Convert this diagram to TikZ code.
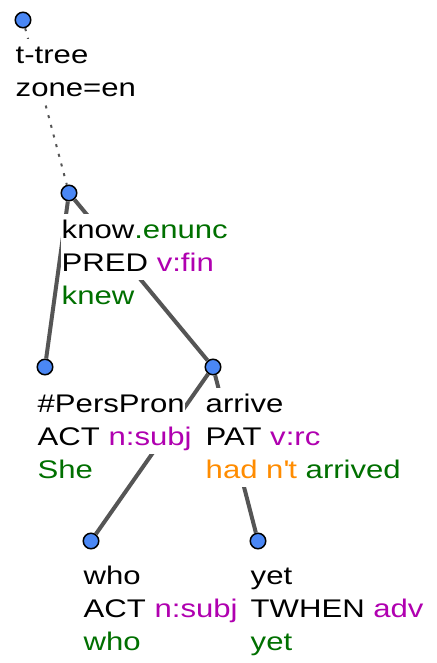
\documentclass[tikz,border=0pt]{standalone}
\usepackage{fontspec}
\setmainfont{Liberation Sans}[FakeStretch=1.22]
\definecolor{tgreen}{RGB}{0,112,0}
\definecolor{tpurple}{RGB}{176,0,176}
\definecolor{torange}{RGB}{255,140,0}
\definecolor{tblue}{RGB}{74,135,245}
\definecolor{tedge}{RGB}{85,85,85}
\newcommand{\fn}[1]{\textcolor{tpurple}{#1}}
\newcommand{\fw}[1]{\textcolor{tgreen}{#1}}

\tikzstyle{tnode} = [circle, draw=black, line width=1.5pt, fill=tblue, minimum size=15.5pt, inner sep=0pt]
\tikzstyle{tline} = [anchor=base west, fill=white, inner sep=0.5pt, text height=24pt, text depth=8pt, font=\fontsize{25.5}{33}\selectfont]
\tikzstyle{edge} = [tedge, line width=4pt]

\begin{document}
\begin{tikzpicture}[x=1pt, y=-1pt]
    \useasboundingbox (0,0) rectangle (436,663);
    % circles
    \node (root) [tnode] at (23,20) {};
    \node (know) [tnode] at (69,193) {};
    \node (pers) [tnode] at (45,367) {};
    \node (arrive) [tnode] at (213,367) {};
    \node (who) [tnode] at (91,541) {};
    \node (yet) [tnode] at (258,541) {};
    % edges
    \draw [tedge, line width=2pt, dash pattern=on 3pt off 7pt] (root) -- (know);
    \draw [edge] (know) -- (pers);
    \draw [edge] (know) -- (arrive);
    \draw [edge] (arrive) -- (who);
    \draw [edge] (arrive) -- (yet);
    % labels
    \node (root1) [tline] at (15,64) {t-tree};
    \node (root2) [tline] at (15,97) {zone=en};
    \node (know1) [tline] at (61,238) {know\fw{.enunc}};
    \node (know2) [tline] at (61,271) {PRED \fn{v:fin}};
    \node (know3) [tline] at (61,304) {\fw{knew}};
    \node (pers1) [tline] at (37,412) {\#PersPron};
    \node (pers2) [tline] at (37,445) {ACT \fn{n:subj}};
    \node (pers3) [tline] at (37,478) {\fw{She}};
    \node (arrive1) [tline] at (205,412) {arrive};
    \node (arrive2) [tline] at (205,445) {PAT \fn{v:rc}};
    \node (arrive3) [tline] at (205,478) {\textcolor{torange}{had n\textquotesingle t} \fw{arrived}};
    \node (who1) [tline] at (83,584) {who};
    \node (who2) [tline] at (83,617) {ACT \fn{n:subj}};
    \node (who3) [tline] at (83,650) {\fw{who}};
    \node (yet1) [tline] at (250,584) {yet};
    \node (yet2) [tline] at (250,617) {TWHEN \fn{adv}};
    \node (yet3) [tline] at (250,650) {\fw{yet}};
\end{tikzpicture}
\end{document}
